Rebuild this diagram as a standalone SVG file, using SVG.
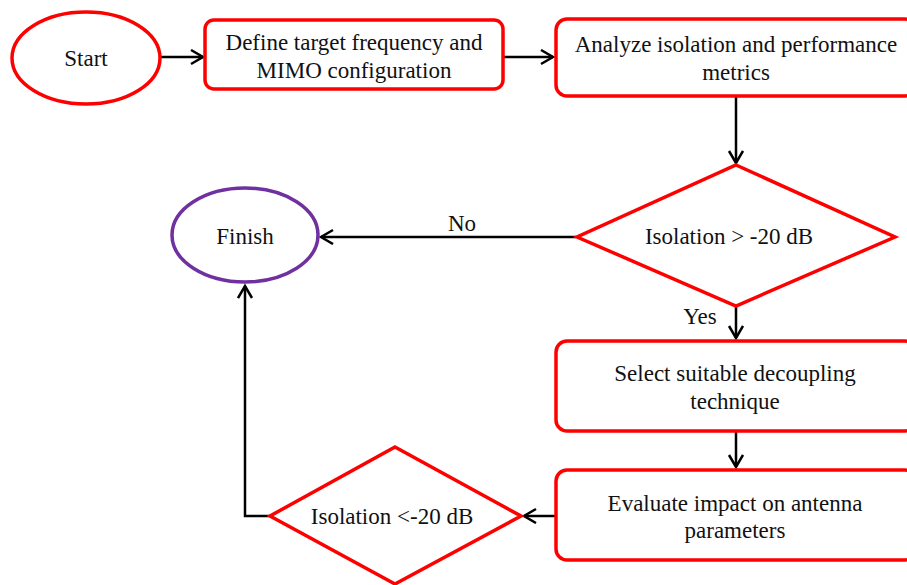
<svg xmlns="http://www.w3.org/2000/svg" width="907" height="585" viewBox="0 0 907 585">
<defs>
<marker id="arr" markerUnits="userSpaceOnUse" markerWidth="16" markerHeight="18" refX="13" refY="8" orient="auto">
<path d="M1,1 L13,8 L1,15" fill="none" stroke="#000" stroke-width="2.5"/>
</marker>
<style>
.box{fill:#fff;stroke:#ff0000;stroke-width:3.5}
.fin{fill:#fff;stroke:#7030a0;stroke-width:3.5}
.t{font-family:"Liberation Serif","Times New Roman",serif;font-size:23px;fill:#111;text-anchor:middle}
.c{fill:none;stroke:#000;stroke-width:2.5}
</style>
</defs>
<rect width="907" height="585" fill="#fff"/>
<g id="connectors">
<line class="c" x1="161" y1="57" x2="203" y2="57" marker-end="url(#arr)"/>
<line class="c" x1="503" y1="57" x2="553" y2="57" marker-end="url(#arr)"/>
<line class="c" x1="736" y1="96" x2="736" y2="163" marker-end="url(#arr)"/>
<line class="c" x1="576" y1="237" x2="321" y2="237" marker-end="url(#arr)"/>
<text class="t" x="462" y="231">No</text>
<line class="c" x1="736" y1="306" x2="736" y2="338" marker-end="url(#arr)"/>
<text class="t" x="700" y="324">Yes</text>
<line class="c" x1="736" y1="431" x2="736" y2="467" marker-end="url(#arr)"/>
<line class="c" x1="555" y1="516" x2="524" y2="516" marker-end="url(#arr)"/>
<polyline class="c" points="270,516 245,516 245,286" marker-end="url(#arr)"/>
</g>
<g id="start">
<ellipse class="box" cx="86" cy="58" rx="74" ry="46"/>
<text class="t" x="86" y="66">Start</text>
</g>
<g id="define">
<rect class="box" x="205" y="20" width="298" height="69" rx="9"/>
<text class="t" x="354" y="50">Define target frequency and</text>
<text class="t" x="354" y="78">MIMO configuration</text>
</g>
<g id="analyze">
<rect class="box" x="556" y="19" width="360" height="77" rx="11"/>
<text class="t" x="736" y="52">Analyze isolation and performance</text>
<text class="t" x="736" y="80">metrics</text>
</g>
<g id="decision1">
<polygon class="box" points="736,165 895,237 736,306 577,237"/>
<text class="t" x="729" y="244">Isolation &gt; -20 dB</text>
</g>
<g id="finish">
<ellipse class="fin" cx="245" cy="235" rx="73" ry="47"/>
<text class="t" x="245" y="244">Finish</text>
</g>
<g id="select">
<rect class="box" x="556" y="341" width="360" height="90" rx="11"/>
<text class="t" x="735" y="381">Select suitable decoupling</text>
<text class="t" x="735" y="409">technique</text>
</g>
<g id="evaluate">
<rect class="box" x="556" y="470" width="360" height="90" rx="11"/>
<text class="t" x="735" y="511">Evaluate impact on antenna</text>
<text class="t" x="735" y="538">parameters</text>
</g>
<g id="decision2">
<polygon class="box" points="395,447 521,516 395,584 270,516"/>
<text class="t" x="392" y="524">Isolation &lt;-20 dB</text>
</g>
</svg>
